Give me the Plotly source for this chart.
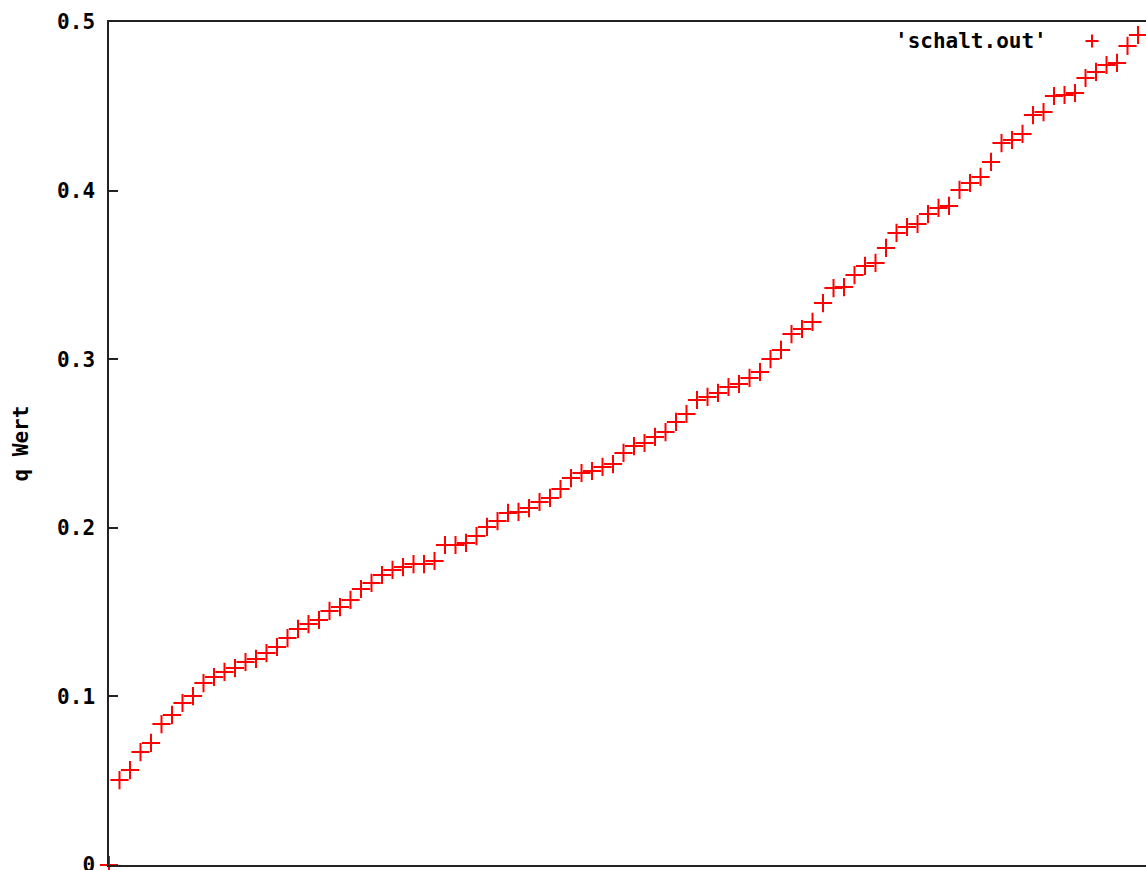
import plotly.graph_objects as go

# q values from schalt.out, one per run index
run_index = list(range(99))
q_wert = [
    0.0,
    0.0504, 0.0563, 0.0670, 0.0724, 0.0836, 0.0890, 0.0961, 0.1002, 0.1079, 0.1115,
    0.1145, 0.1168, 0.1204, 0.1222, 0.1257, 0.1293, 0.1346, 0.1400, 0.1429, 0.1453,
    0.1507, 0.1530, 0.1572, 0.1637, 0.1673, 0.1720, 0.1750, 0.1767, 0.1785, 0.1785,
    0.1803, 0.1898, 0.1898, 0.1910, 0.1951, 0.2005, 0.2040, 0.2088, 0.2094, 0.2117,
    0.2153, 0.2177, 0.2230, 0.2295, 0.2325, 0.2337, 0.2361, 0.2378, 0.2444, 0.2485,
    0.2503, 0.2539, 0.2568, 0.2628, 0.2675, 0.2758, 0.2776, 0.2800, 0.2835, 0.2853,
    0.2889, 0.2924, 0.3001, 0.3055, 0.3149, 0.3179, 0.3221, 0.3333, 0.3422, 0.3428,
    0.3499, 0.3553, 0.3571, 0.3660, 0.3749, 0.3784, 0.3802, 0.3861, 0.3897, 0.3909,
    0.4004, 0.4045, 0.4081, 0.4170, 0.4282, 0.4300, 0.4336, 0.4448, 0.4466, 0.4561,
    0.4567, 0.4579, 0.4668, 0.4704, 0.4745, 0.4757, 0.4858, 0.4923,
]
y_ticks = [0, 0.1, 0.2, 0.3, 0.4, 0.5]
y_tick_text = ["0", "0.1", "0.2", "0.3", "0.4", "0.5"]
series_name = "'schalt.out'"
y_title = "q Wert"

FONT = dict(family="DejaVu Sans Mono", size=21, color="black", weight="bold")
RED = "#ff0000"

fig = go.Figure()
fig.add_trace(go.Scatter(
    x=run_index, y=q_wert, mode="markers", name=series_name,
    marker=dict(symbol="cross-thin", size=13, color=RED,
                line=dict(color=RED, width=2)),
    cliponaxis=False, showlegend=False,
))

fig.update_layout(
    width=1146, height=870,
    margin=dict(l=109, r=0, t=22, b=5, autoexpand=False),
    paper_bgcolor="white", plot_bgcolor="white",
    font=FONT,
    xaxis=dict(range=[0, 98.76], showgrid=False, zeroline=False,
               showline=True, linecolor="#222", linewidth=1.5, mirror=True,
               ticks="", showticklabels=False, automargin=False),
    yaxis=dict(range=[0, 0.5], showgrid=False, zeroline=False,
               showline=True, linecolor="#222", linewidth=1.5,
               tickmode="array", tickvals=y_ticks, ticktext=y_tick_text,
               ticks="inside", ticklen=9, tickwidth=1.5, tickcolor="#222",
               ticklabelstandoff=8, ticklabeloverflow="allow", tickfont=FONT,
               automargin=False),
    yaxis2=dict(range=[0, 0.5], overlaying="y", side="right",
                showgrid=False, zeroline=False, showline=False,
                tickmode="array", tickvals=y_ticks,
                ticks="inside", ticklen=9, tickwidth=1.5, tickcolor="#222",
                showticklabels=False, automargin=False),
)

# y-axis title, rotated, left of the tick labels
fig.add_annotation(text=y_title, xref="paper", yref="paper",
                   x=(20 - 109) / 1037, y=0.5, textangle=-90,
                   showarrow=False, xanchor="center", yanchor="middle",
                   font=FONT)

# key: label followed by its symbol
fig.add_annotation(text=series_name, xref="paper", yref="paper",
                   x=(1049 - 109) / 1037, y=(865 - 41) / 843,
                   showarrow=False, xanchor="right", yanchor="middle",
                   font=FONT)
fig.add_shape(type="path", xref="paper", yref="paper",
              xsizemode="pixel", ysizemode="pixel",
              xanchor=(1092 - 109) / 1037, yanchor=(865 - 41) / 843,
              path="M-6.5,0 H6.5 M0,-6.5 V6.5",
              line=dict(color=RED, width=2))

fig.write_html("out.html")
